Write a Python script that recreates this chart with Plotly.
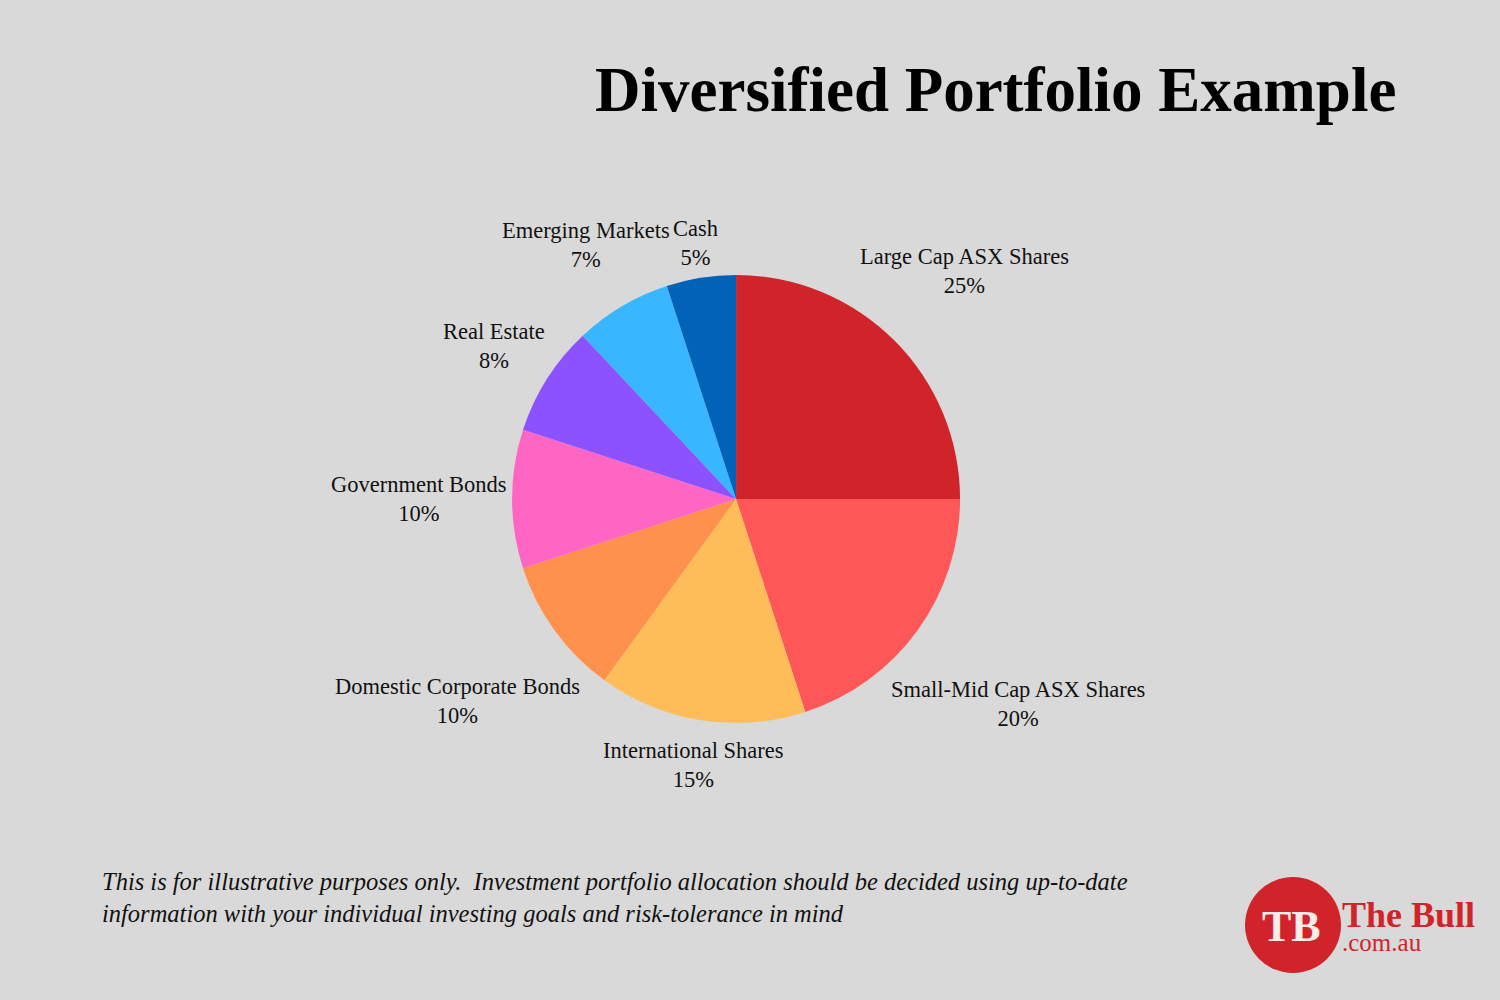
import math
import plotly.graph_objects as go

labels = ["Large Cap ASX Shares", "Small-Mid Cap ASX Shares", "International Shares",
          "Domestic Corporate Bonds", "Government Bonds", "Real Estate",
          "Emerging Markets", "Cash"]
values = [25, 20, 15, 10, 10, 8, 7, 5]
colors = ["#D1232A", "#FF5757", "#FFBD59", "#FF914D", "#FF66C4", "#8C52FF",
          "#38B6FF", "#0262B8"]

BG = "#D9D9D9"
SERIF = "Liberation Serif, Times New Roman, serif"
W, H = 1500, 1000
DOM_X = [0.2907, 0.6907]
DOM_Y = [0.277, 0.725]
LABEL_SIZE = 22.5

# Times/Liberation Serif advance widths (1/1000 em) for estimating label box size
_TW = dict(zip("abcdefghijklmnopqrstuvwxyz",
               [444, 500, 444, 500, 444, 333, 500, 500, 278, 278, 500, 278, 778, 500,
                500, 500, 500, 333, 389, 278, 500, 500, 722, 500, 500, 444]))
_TW.update(dict(zip("ABCDEFGHIJKLMNOPQRSTUVWXYZ",
                    [722, 667, 667, 722, 611, 556, 722, 722, 333, 389, 722, 611, 889, 722,
                     722, 556, 722, 667, 556, 611, 722, 722, 944, 722, 722, 611])))
_TW.update({" ": 250, "-": 333, "%": 833})
for _d in "0123456789":
    _TW[_d] = 500


def text_w(s, size):
    return sum(_TW.get(ch, 500) for ch in s) / 1000 * size


fig = go.Figure(go.Pie(
    labels=labels, values=values, sort=False, direction="clockwise", rotation=0,
    marker=dict(colors=colors, line=dict(width=0)),
    textinfo="none", showlegend=False, hoverinfo="label+value",
    domain=dict(x=DOM_X, y=DOM_Y),
))

# outside labels placed along each slice's mid-angle, just clear of the pie
cx = (DOM_X[0] + DOM_X[1]) / 2 * W
cy = (1 - (DOM_Y[0] + DOM_Y[1]) / 2) * H
R = min((DOM_X[1] - DOM_X[0]) * W, (DOM_Y[1] - DOM_Y[0]) * H) / 2
total = sum(values)
annos = []
cum = 0
for lab, v in zip(labels, values):
    mid = (cum + v / 2) / total * 2 * math.pi
    cum += v
    dx, dy = math.sin(mid), -math.cos(mid)
    pct = f"{round(v / total * 100)}%"
    hw = max(text_w(lab, LABEL_SIZE), text_w(pct, LABEL_SIZE)) / 2
    hh = 27
    dist = R + 5 + hw * abs(dx) + hh * abs(dy)
    px, py = cx + dx * dist, cy + dy * dist
    annos.append(dict(text=f"{lab}<br>{pct}", x=px / W, y=1 - py / H,
                      xref="paper", yref="paper", xanchor="center", yanchor="middle",
                      align="center", showarrow=False,
                      font=dict(family=SERIF, size=LABEL_SIZE, color="#111111")))

annos += [
    dict(text="<b>Diversified Portfolio Example</b>", x=1398/W, y=1-90/H,
         xref="paper", yref="paper", xanchor="right", yanchor="middle",
         showarrow=False, font=dict(family=SERIF, size=63, color="#000000")),
    dict(text="<i>This is for illustrative purposes only.  Investment portfolio allocation should be decided using up-to-date<br>information with your individual investing goals and risk-tolerance in mind</i>",
         x=100/W, y=1-897/H, xref="paper", yref="paper", xanchor="left", yanchor="middle",
         align="left", showarrow=False, font=dict(family=SERIF, size=24.5, color="#111111")),
    dict(text="<b>TB</b>", x=1291/W, y=1-926/H, xref="paper", yref="paper",
         xanchor="center", yanchor="middle",
         showarrow=False, font=dict(family=SERIF, size=44, color="#FBECEA")),
    dict(text="<b>The Bull</b>", x=1340/W, y=1-915/H, xref="paper", yref="paper",
         xanchor="left", yanchor="middle",
         showarrow=False, font=dict(family=SERIF, size=36, color="#D1232A")),
    dict(text=".com.au", x=1340/W, y=1-942/H, xref="paper", yref="paper",
         xanchor="left", yanchor="middle",
         showarrow=False, font=dict(family=SERIF, size=25, color="#D1232A")),
]

fig.update_layout(
    width=W, height=H, margin=dict(l=0, r=0, t=0, b=0),
    paper_bgcolor=BG, plot_bgcolor=BG,
    annotations=annos,
    shapes=[dict(type="circle", xref="paper", yref="paper", layer="below",
                 x0=1245/W, x1=1341/W, y0=1-973/H, y1=1-877/H,
                 fillcolor="#D1232A", line=dict(width=0))],
)

fig.write_html("out.html")
